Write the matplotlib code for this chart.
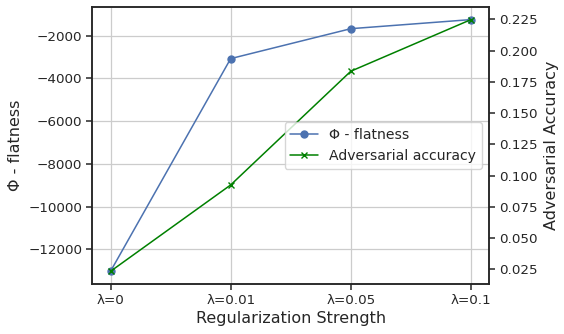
import numpy as np
import matplotlib
matplotlib.use("Agg")
import matplotlib.pyplot as plt
import seaborn as sns

labels = ["λ=0", "λ=0.01", "λ=0.05", "λ=0.1"]
flatness = [-13030, -3080, -1680, -1255]
adv_acc = [0.0234, 0.0925, 0.1835, 0.2248]

sns.set_style("ticks")
plt.rcParams["font.family"] = ["DejaVu Sans"]
plt.rcParams["axes.linewidth"] = 1.1

fs = 9.7
lfs = 11.5
x = np.arange(len(labels))

fig, ax = plt.subplots(figsize=(5.64, 3.34), dpi=100)
l1, = ax.plot(x, flatness, marker="o", color="#4c72b0", lw=1.1, ms=5, label="Φ - flatness")
ax.set_xticks(x)
ax.set_xticklabels(labels, fontsize=fs)
ax.tick_params(axis="both", labelsize=fs, length=4.5, width=1.1, pad=3)
ax.set_xlabel("Regularization Strength", fontsize=lfs, labelpad=3)
ax.set_ylabel("Φ - flatness", fontsize=lfs)
ax.grid(True, color="#cccccc", lw=0.9)

ax2 = ax.twinx()
l2, = ax2.plot(x, adv_acc, marker="x", color="green", lw=1.1, ms=5, label="Adversarial accuracy")
ax2.set_ylabel("Adversarial Accuracy", fontsize=lfs)
ax2.tick_params(axis="y", labelsize=fs, length=4.5, width=1.1, pad=3)
ax2.set_yticks([0.025, 0.05, 0.075, 0.1, 0.125, 0.15, 0.175, 0.2, 0.225])

ax2.legend([l1, l2], [l1.get_label(), l2.get_label()], loc="center right", fontsize=10.1)

plt.subplots_adjust(left=0.164, right=0.867, top=0.979, bottom=0.15)
plt.savefig("out.png", dpi=100)
